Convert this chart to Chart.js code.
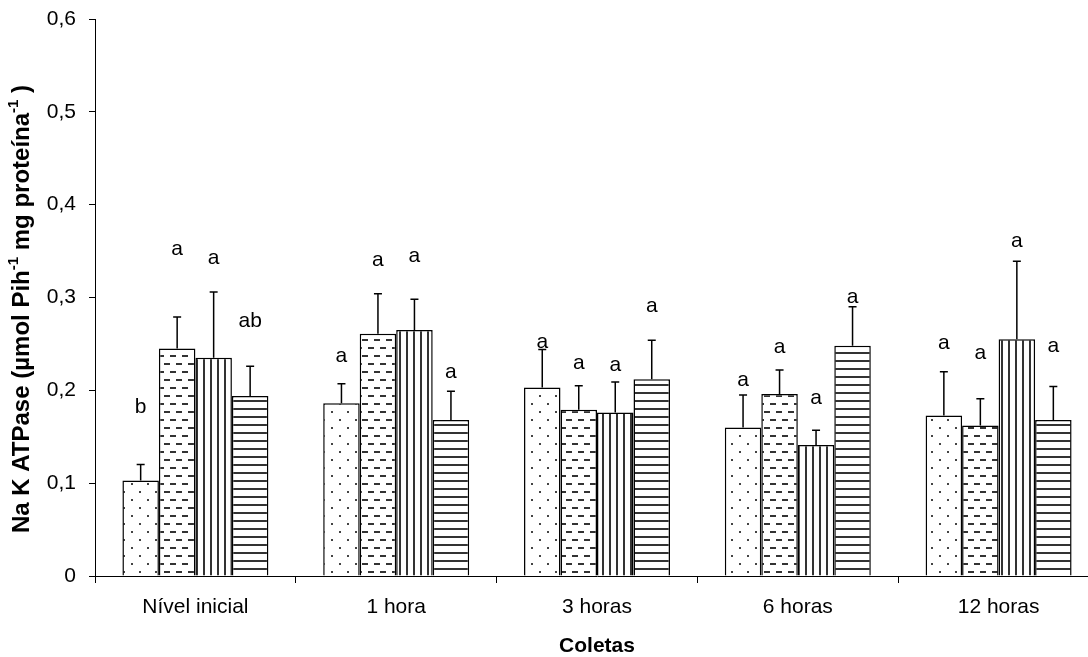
<!DOCTYPE html>
<html>
<head>
<meta charset="utf-8">
<script src="https://cdn.jsdelivr.net/npm/chart.js@4/dist/chart.umd.min.js"></script>
<style>
  html, body { margin: 0; padding: 0; background: #fff; overflow: hidden; }
  #wrap { position: relative; width: 1099px; height: 657px; }
</style>
</head>
<body>
<div id="wrap"><canvas id="myChart"></canvas></div>
<script>
"use strict";

const categories = ["Nível inicial", "1 hora", "3 horas", "6 horas", "12 horas"];
const yTicks = [0, 0.1, 0.2, 0.3, 0.4, 0.5, 0.6];

// bar heights (means)
const serie1 = [0.103, 0.186, 0.203, 0.160, 0.173];
const serie2 = [0.245, 0.261, 0.179, 0.196, 0.162];
const serie3 = [0.235, 0.265, 0.176, 0.141, 0.255];
const serie4 = [0.194, 0.168, 0.212, 0.248, 0.168];

// upper error (standard deviation)
const erro1 = [0.017, 0.021, 0.041, 0.035, 0.047];
const erro2 = [0.034, 0.043, 0.026, 0.026, 0.029];
const erro3 = [0.071, 0.033, 0.033, 0.016, 0.084];
const erro4 = [0.032, 0.031, 0.042, 0.042, 0.036];

// significance letters and the height where each one sits
const letras1 = ["b", "a", "a", "a", "a"];
const letras2 = ["a", "a", "a", "a", "a"];
const letras3 = ["a", "a", "a", "a", "a"];
const letras4 = ["ab", "a", "a", "a", "a"];
const alturaLetras1 = [0.182, 0.237, 0.252, 0.211, 0.251];
const alturaLetras2 = [0.352, 0.340, 0.229, 0.246, 0.2405];
const alturaLetras3 = [0.342, 0.344, 0.227, 0.192, 0.361];
const alturaLetras4 = [0.274, 0.219, 0.291, 0.300, 0.248];

const FONT = "'Liberation Sans', Arial, sans-serif";

function makePattern(kind) {
  const c = document.createElement("canvas");
  const sizes = { dots: [16, 16], dashes: [12, 16], vertical: [7, 8], horizontal: [8, 8] };
  c.width = sizes[kind][0];
  c.height = sizes[kind][1];
  const g = c.getContext("2d");
  g.fillStyle = "#fff";
  g.fillRect(0, 0, c.width, c.height);
  if (kind === "dots") {
    g.fillStyle = "#444";
    g.fillRect(3, 3, 2, 2);
    g.fillRect(11, 11, 2, 2);
  } else if (kind === "dashes") {
    g.fillStyle = "#333";
    g.fillRect(2, 3, 6, 2);
    g.fillRect(8, 11, 4, 2);
    g.fillRect(0, 11, 2, 2);
  } else if (kind === "vertical") {
    g.fillStyle = "#333";
    g.fillRect(0, 0, 2, 8);
  } else {
    g.fillStyle = "#333";
    g.fillRect(0, 0, 8, 2);
  }
  return g.createPattern(c, "repeat");
}

const erros = [erro1, erro2, erro3, erro4];
const letras = [letras1, letras2, letras3, letras4];
const alturas = [alturaLetras1, alturaLetras2, alturaLetras3, alturaLetras4];

const extrasPlugin = {
  id: "extras",
  afterDatasetsDraw(chart) {
    const ctx = chart.ctx;
    const y = chart.scales.y;
    ctx.save();
    chart.data.datasets.forEach((ds, d) => {
      const meta = chart.getDatasetMeta(d);
      meta.data.forEach((bar, i) => {
        const top = y.getPixelForValue(ds.data[i] + erros[d][i]);
        ctx.strokeStyle = "#000";
        ctx.lineWidth = 1.5;
        ctx.beginPath();
        ctx.moveTo(bar.x, bar.y);
        ctx.lineTo(bar.x, top);
        ctx.moveTo(bar.x - 4, top);
        ctx.lineTo(bar.x + 4, top);
        ctx.stroke();

        ctx.fillStyle = "#000";
        ctx.font = "21px " + FONT;
        ctx.textAlign = "center";
        ctx.textBaseline = "middle";
        ctx.fillText(letras[d][i], bar.x, y.getPixelForValue(alturas[d][i]));
      });
    });
    ctx.restore();
  },
  afterDraw(chart) {
    // y-axis title with superscripts
    const ctx = chart.ctx;
    const parts = [
      ["Na K ATPase (µmol Pih", false],
      ["-1", true],
      [" mg proteína", false],
      ["-1", true],
      [" )", false],
    ];
    const big = "bold 24px " + FONT;
    const small = "bold 15px " + FONT;
    ctx.save();
    let total = 0;
    parts.forEach(([t, sup]) => {
      ctx.font = sup ? small : big;
      total += ctx.measureText(t).width;
    });
    ctx.translate(22, 309);
    ctx.rotate(-Math.PI / 2);
    ctx.fillStyle = "#000";
    ctx.textBaseline = "middle";
    ctx.textAlign = "left";
    let x = -total / 2;
    parts.forEach(([t, sup]) => {
      ctx.font = sup ? small : big;
      ctx.fillText(t, x, sup ? -8 : 0);
      x += ctx.measureText(t).width;
    });
    ctx.restore();
  },
};

const data = {
  labels: categories,
  datasets: [
    { label: "Série 1", data: serie1, backgroundColor: makePattern("dots") },
    { label: "Série 2", data: serie2, backgroundColor: makePattern("dashes") },
    { label: "Série 3", data: serie3, backgroundColor: makePattern("vertical") },
    { label: "Série 4", data: serie4, backgroundColor: makePattern("horizontal") },
  ].map((ds) => ({
    ...ds,
    borderColor: "#000",
    borderWidth: 1.5,
    borderSkipped: "bottom",
    categoryPercentage: 0.727,
    barPercentage: 1.0,
  })),
};

const config = {
  type: "bar",
  data: data,
  plugins: [extrasPlugin],
  options: {
    responsive: true,
    maintainAspectRatio: false,
    animation: false,
    layout: {
      padding: { top: 19, left: 0, right: 0, bottom: 0 },
    },
    plugins: {
      legend: { display: false },
      tooltip: { enabled: false },
    },
    scales: {
      x: {
        afterFit: (scale) => { scale.height = 81; },
        grid: {
          offset: true,
          drawOnChartArea: false,
          tickLength: 7,
          color: "#000",
        },
        border: { color: "#000", width: 1 },
        ticks: {
          color: "#000",
          padding: 12,
          font: { family: FONT, size: 21 },
          maxRotation: 0,
        },
        title: {
          display: true,
          text: "Coletas",
          color: "#000",
          padding: { top: 0, bottom: -2 },
          font: { family: FONT, size: 21, weight: "bold" },
        },
      },
      y: {
        min: yTicks[0],
        max: yTicks[yTicks.length - 1],
        afterFit: (scale) => {
          scale.width = 95;
          scale.paddingTop = 0;
          scale.paddingBottom = 0;
        },
        afterBuildTicks: (scale) => {
          scale.ticks = yTicks.map((v) => ({ value: v }));
        },
        grid: {
          drawOnChartArea: false,
          tickLength: 6,
          color: "#000",
        },
        border: { color: "#000", width: 1 },
        ticks: {
          color: "#000",
          padding: 13,
          font: { family: FONT, size: 21 },
          callback: (v) => (v === 0 ? "0" : v.toFixed(1).replace(".", ",")),
        },
      },
    },
  },
};

const myChart = new Chart(document.getElementById("myChart"), config);
</script>
</body>
</html>
